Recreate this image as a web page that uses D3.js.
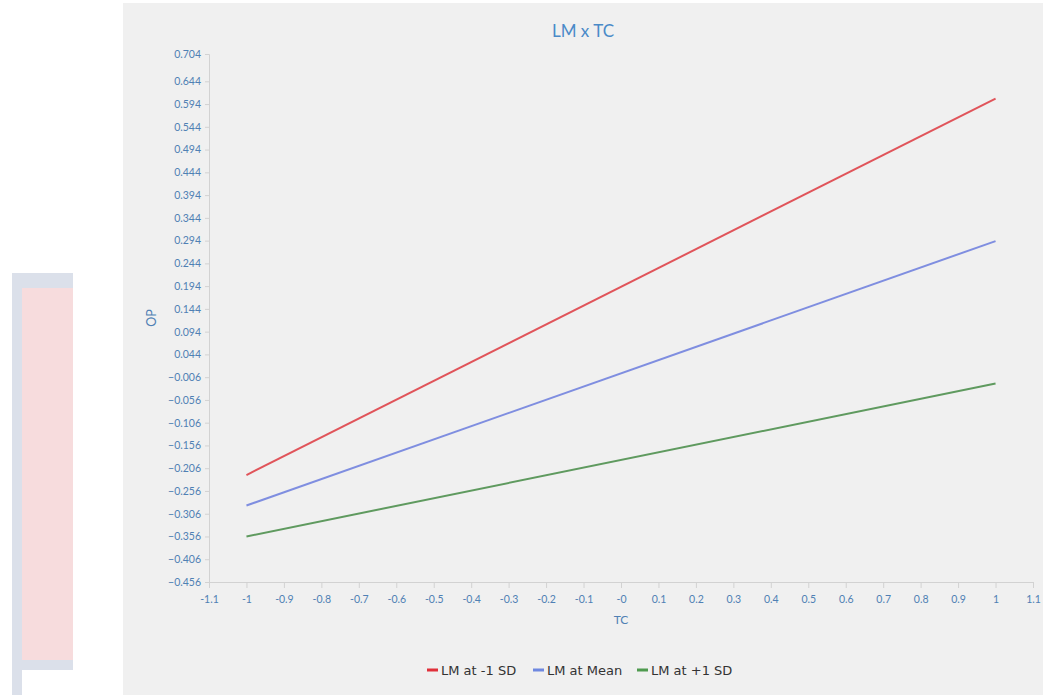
<!DOCTYPE html>
<html>
<head>
<meta charset="utf-8">
<script src="https://cdn.jsdelivr.net/npm/d3@7"></script>
<style>
  html, body { margin: 0; padding: 0; background: #ffffff; }
  svg { display: block; }
</style>
</head>
<body>
<svg id="chart" width="1043" height="695"></svg>
<script>
// Simple-slopes data: OP predicted from TC at three levels of LM
const xValues = [-1, 1];
const seriesNames = ["LM at -1 SD", "LM at Mean", "LM at +1 SD"];
const lowValues = [-0.221, 0.606];
const meanValues = [-0.288, 0.293];
const highValues = [-0.356, -0.020];
const seriesColors = ["#e0545a", "#7f8ee0", "#5f9a5f"];
const swatchColors = ["#e0303a", "#6f88e0", "#4f9a4f"];

const yMin = -0.456, yMax = 0.704, yStep = 0.05;
const yTickValues = d3.range(0, 23).map(k => +(yMin + k * yStep).toFixed(3)).concat([yMax]);
const xTickValues = d3.range(-11, 12).map(k => +(k / 10).toFixed(1));

const svg = d3.select("#chart");

// decorative box at the left edge
const deco = svg.append("g");
deco.append("rect").attr("x", 12).attr("y", 273).attr("width", 61).attr("height", 422).attr("fill", "#dbe0ea");
deco.append("rect").attr("x", 22).attr("y", 288).attr("width", 51).attr("height", 372).attr("fill", "#f7dcdd");
deco.append("rect").attr("x", 22).attr("y", 670).attr("width", 51).attr("height", 25).attr("fill", "#ffffff");

// chart panel
svg.append("rect").attr("x", 123).attr("y", 3).attr("width", 920).attr("height", 692).attr("fill", "#f0f0f0");

const plotLeft = 209, plotRight = 1033, plotTop = 54, plotBottom = 582;
const x = d3.scaleLinear().domain([-1.1, 1.1]).range([plotLeft, plotRight]);
const y = d3.scaleLinear().domain([yMin, yMax]).range([plotBottom, plotTop]);

const labelColor = "#4f80b4";
const font = "Lato, 'Open Sans', sans-serif";

// y axis
const yAxis = svg.append("g").attr("transform", `translate(${plotLeft},0)`)
  .call(d3.axisLeft(y).tickValues(yTickValues).tickSize(4).tickPadding(4)
    .tickFormat(d => d3.format(".3f")(d)));
yAxis.select(".domain").attr("stroke", "#d2d2d2");
yAxis.selectAll(".tick line").attr("stroke", "#d2d2d2");
yAxis.selectAll(".tick text").attr("fill", labelColor).attr("font-family", font).attr("font-size", 10.5);

// x axis
const xAxis = svg.append("g").attr("transform", `translate(0,${plotBottom})`)
  .call(d3.axisBottom(x).tickValues(xTickValues).tickSize(6).tickPadding(8)
    .tickFormat(d => (Math.abs(d) < 1e-9 ? "-0" : String(d))));
xAxis.select(".domain").attr("stroke", "#d2d2d2");
xAxis.selectAll(".tick line").attr("stroke", "#d2d2d2");
xAxis.selectAll(".tick text").attr("fill", labelColor).attr("font-family", font).attr("font-size", 10.5);

// axis titles
svg.append("text").attr("x", (plotLeft + plotRight) / 2).attr("y", 624).attr("text-anchor", "middle")
  .attr("fill", labelColor).attr("font-family", font).attr("font-size", 12).text("TC");
svg.append("text").attr("transform", `translate(156,${(plotTop + plotBottom) / 2}) rotate(-90)`)
  .attr("text-anchor", "middle").attr("fill", labelColor).attr("font-family", font).attr("font-size", 12.5).text("OP");

// title
svg.append("text").attr("x", 583).attr("y", 37).attr("text-anchor", "middle")
  .attr("fill", "#4a8ac8").attr("font-family", font).attr("font-size", 17).text("LM x TC");

// lines
const series = [lowValues, meanValues, highValues];
const line = d3.line().x((d, i) => x(xValues[i])).y(d => y(d));
svg.append("g").selectAll("path").data(series).join("path")
  .attr("d", d => line(d))
  .attr("fill", "none")
  .attr("stroke", (d, i) => seriesColors[i])
  .attr("stroke-width", 2);

// legend
const legendX = [427, 533, 637];
const legend = svg.append("g").selectAll("g").data(seriesNames).join("g")
  .attr("transform", (d, i) => `translate(${legendX[i]},670)`);
legend.append("rect").attr("x", 0).attr("y", -1.5).attr("width", 11).attr("height", 3)
  .attr("fill", (d, i) => swatchColors[i]);
legend.append("text").attr("x", 14).attr("y", 4.5).attr("fill", "#333333")
  .attr("font-family", "'DejaVu Sans', sans-serif").attr("font-size", 13).text(d => d);
</script>
</body>
</html>
